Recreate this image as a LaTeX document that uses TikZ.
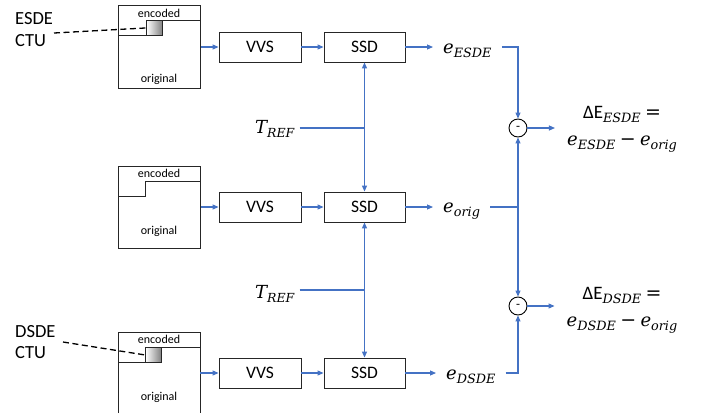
\documentclass[tikz,border=0pt]{standalone}
\usepackage{fontspec}
\setmainfont{Carlito}
\newfontfamily\mf{DejaVu Serif}
\usetikzlibrary{arrows.meta,calc}
\definecolor{lnblue}{RGB}{68,114,196}
\newcommand\ev[2]{{\fontsize{18}{20}\selectfont\mf\itshape #1}\raisebox{-4pt}{\fontsize{12.8}{13}\selectfont\mf\itshape #2}}
\newcommand\evs[2]{{\fontsize{18}{20}\selectfont\mf\itshape #1}\raisebox{-4.5pt}{\fontsize{12.5}{13}\selectfont\mf\itshape #2}}
\begin{document}
\begin{tikzpicture}[x=1pt,y=-1pt,
  >={Triangle[length=6pt,width=5pt]},
  blk/.style={draw=black!85, line width=0.9pt, minimum width=82pt, minimum height=30pt, inner sep=0pt, font=\fontsize{17.5}{19}\selectfont},
  img/.style={draw=black!85, line width=0.9pt},
  imgbox/.style={img, inner sep=0pt, minimum width=82pt, anchor=north west},
  flow/.style={draw=lnblue, line width=1.1pt, ->},
  flow2/.style={draw=lnblue, line width=1.1pt, <->},
  wire/.style={draw=lnblue, line width=1.1pt},
  lbl/.style={font=\fontsize{12}{13}\selectfont, inner sep=0pt},
  ctu/.style={font=\fontsize{18.5}{20}\selectfont, inner sep=0pt, anchor=base west},
  ctubox/.style={draw=black!85, line width=0.9pt, left color=white, right color=black!50, minimum width=16pt, minimum height=15pt, inner sep=0pt, anchor=north west},
  leader/.style={draw=black, line width=1.3pt, dash pattern=on 6pt off 3.5pt},
  sub/.style={draw=black, line width=0.9pt, circle, minimum size=18pt, inner sep=0pt, font=\fontsize{13}{13}\selectfont},
  mathlbl/.style={inner ysep=0pt, inner xsep=10pt, anchor=base west},
  tlbl/.style={inner ysep=0pt, inner xsep=5pt, anchor=base west},
  res/.style={font=\fontsize{19}{27}\selectfont, align=center, inner ysep=0pt, inner xsep=12pt}
]
\useasboundingbox (0,0) rectangle (710,413);

% ---- image blocks ----
\node[imgbox, minimum height=83pt] (orig1) at (118,5) {};
\draw[img] (118,35) -- (146,35);
\draw[img] (162,20) -- (200,20);
\node[ctubox] (ctu1) at (146,20) {};
\node[lbl] (enc1) at (159,13) {encoded};
\node[lbl] (org1) at (159,79) {original};

\node[imgbox, minimum height=82pt] (orig2) at (118,166) {};
\draw[img] (118,196) -- (145,196) -- (145,181) -- (200,181);
\node[lbl] (enc2) at (159,173) {encoded};
\node[lbl] (org2) at (159,231) {original};

\draw[img] (118,413) -- (118,332) -- (200,332) -- (200,413);
\coordinate (orig3) at (200,373);
\draw[img] (118,362) -- (145,362);
\draw[img] (161,347) -- (200,347);
\node[ctubox] (ctu2) at (145,347) {};
\node[lbl] (enc3) at (159,339) {encoded};
\node[lbl] (org3) at (159,397) {original};

% ---- CTU labels ----
\node[ctu] (esde) at (15,24) {ESDE};
\node[ctu] (ctuA) at (15,46) {CTU};
\coordinate (leadA) at (54,33);
\draw[leader] (leadA) -- (ctu1.west);
\node[ctu] (dsde) at (15,337) {DSDE};
\node[ctu] (ctuB) at (15,358) {CTU};
\coordinate (leadB) at (63,342);
\draw[leader] (leadB) -- (ctu2.west);

% ---- processing blocks ----
\node[blk] (vvs1) at (260,47) {VVS};
\node[blk, minimum width=81pt] (ssd1) at (364.5,47) {SSD};
\node[blk] (vvs2) at (260,207) {VVS};
\node[blk, minimum width=81pt] (ssd2) at (364.5,207) {SSD};
\node[blk] (vvs3) at (260,373) {VVS};
\node[blk, minimum width=81pt] (ssd3) at (364.5,373) {SSD};

\draw[flow] (orig1.east |- vvs1.west) -- (vvs1.west);
\draw[flow] (orig2.east |- vvs2.west) -- (vvs2.west);
\draw[flow] (orig3) -- (vvs3.west);
\draw[flow] (vvs1) -- (ssd1);
\draw[flow] (vvs2) -- (ssd2);
\draw[flow] (vvs3) -- (ssd3);

% ---- T_REF ----
\node[tlbl] (t1) at (250,133) {\evs{T}{REF}};
\node[tlbl] (t2) at (250,298) {\evs{T}{REF}};
\coordinate (tj1) at (364.5,128);
\coordinate (tj2) at (364.5,290);
\draw[flow2] (ssd1.south) -- (ssd2.north);
\draw[flow2] (ssd2.south) -- (ssd3.north);
\draw[wire] (t1.east |- tj1) -- (tj1);
\draw[wire] (t2.east |- tj2) -- (tj2);

% ---- error labels ----
\node[mathlbl] (eE) at (433,53) {\ev{e}{ESDE}};
\node[mathlbl] (eO) at (433,212) {\ev{e}{orig}};
\node[mathlbl] (eD) at (436,379) {\ev{e}{DSDE}};
\draw[flow] (ssd1.east) -- (eE.west |- ssd1.east);
\draw[flow] (ssd2.east) -- (eO.west |- ssd2.east);
\draw[flow] (ssd3.east) -- (eD.west |- ssd3.east);

\node[sub] (sub1) at (518,128) {-};
\node[sub] (sub2) at (518,306) {-};
\draw[flow] (eE.east |- ssd1.east) -| (sub1.north);
\draw[flow] (eO.east |- ssd2.east) -| (sub1.south);
\draw[flow] (eO.east |- ssd2.east) -| (sub2.north);
\draw[flow] (eD.east |- ssd3.east) -| (sub2.south);

% ---- results ----
\node[res] (r1) at (622,129) {ΔE\raisebox{-4pt}{\fontsize{12.8}{13}\selectfont\mf\itshape ESDE} {\mf =}\\ \ev{e}{ESDE} {\mf −} \ev{e}{orig}};
\node[res] (r2) at (622,310) {ΔE\raisebox{-4pt}{\fontsize{12.8}{13}\selectfont\mf\itshape DSDE} {\mf =}\\ \ev{e}{DSDE} {\mf −} \ev{e}{orig}};
\draw[flow] (sub1.east) -- (r1.west |- sub1.east);
\draw[flow] (sub2.east) -- (r2.west |- sub2.east);
\end{tikzpicture}
\end{document}
